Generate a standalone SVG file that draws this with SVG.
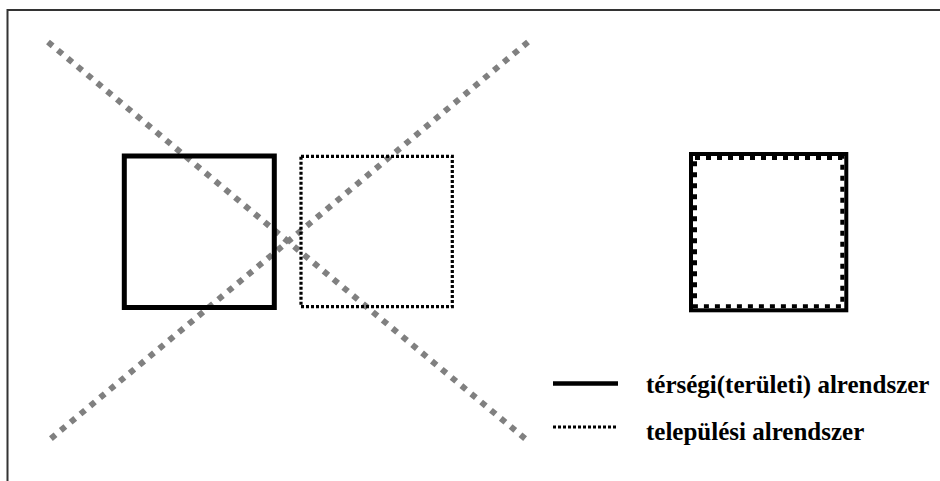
<svg xmlns="http://www.w3.org/2000/svg" width="940" height="481" viewBox="0 0 940 481">
<style>
.frame{fill:none;stroke:#333;stroke-width:2}
.xline{fill:none;stroke:#808080;stroke-width:6;stroke-dasharray:6 6.8}
.solid{fill:none;stroke:#000;stroke-width:5}
.dotted{fill:none;stroke:#000;stroke-width:3.2;stroke-dasharray:3 2}
</style>
<rect width="940" height="481" fill="#fff"/>
<g id="frame"><path class="frame" d="M7.5,481 V10 H940"/></g>
<g id="connectors">
<line class="xline" x1="48" y1="42" x2="528" y2="441"/>
<line class="xline" x1="528" y1="42" x2="48" y2="441"/>
</g>
<g id="node-regional"><rect class="solid" x="124.3" y="156" width="150" height="151.5"/></g>
<g id="node-settlement"><rect class="dotted" x="301" y="156.3" width="151.3" height="150.4"/></g>
<g id="node-combined">
<rect fill="none" stroke="#000" stroke-width="4" x="691" y="154" width="155.3" height="156.3"/>
<rect fill="none" stroke="#000" stroke-width="4" stroke-dasharray="5 6" x="695" y="158" width="147.3" height="148.3"/>
</g>
<g id="legend" font-family="Liberation Serif, Times New Roman, serif" font-weight="bold" font-size="25" fill="#000">
<line x1="553" y1="383.5" x2="618" y2="383.5" stroke="#000" stroke-width="4.5"/>
<line x1="553" y1="427" x2="618" y2="427" stroke="#000" stroke-width="3.2" stroke-dasharray="3 2"/>
<text x="646" y="393">térségi(területi) alrendszer</text>
<text x="646" y="440">települési alrendszer</text>
</g>
</svg>
